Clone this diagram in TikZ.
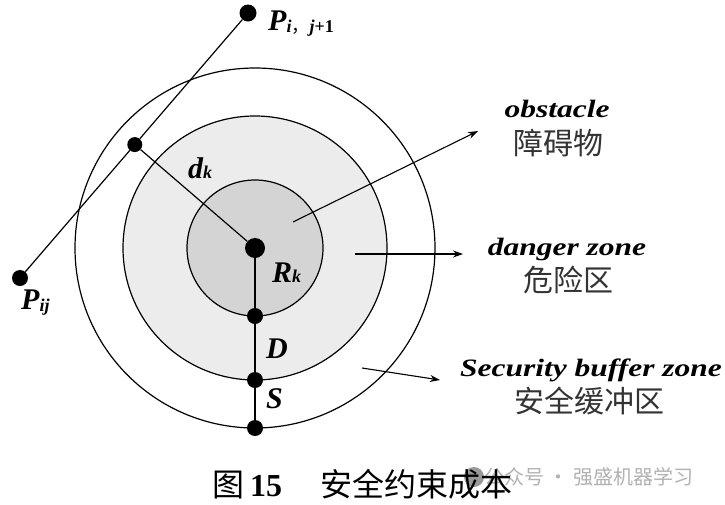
\documentclass[tikz,border=0pt]{standalone}
\usepackage{fontspec}
\setmainfont{Liberation Serif}
\newfontfamily\cjk{Noto Sans CJK SC}
\usetikzlibrary{arrows.meta,calc}
\newcommand{\hstretch}[1]{\scalebox{1.26}[1]{#1}}
\newcommand{\mlab}[2]{{\fontsize{30}{30}\selectfont\bfseries\itshape #1}{\fontsize{18}{18}\selectfont\bfseries\itshape #2}}
\definecolor{innerfill}{RGB}{212,212,212}
\definecolor{midfill}{RGB}{236,236,236}
\begin{document}
\begin{tikzpicture}[x=1pt,y=-1pt,
  ring/.style={draw=black, line width=1.2pt},
  seg/.style={draw=black, line width=1.2pt},
  dot/.style={circle, fill=black, inner sep=0pt, minimum size=16pt},
  lab/.style={inner sep=0pt, anchor=base west},
  ptr/.style={draw=black, line width=1.1pt, -{Stealth[length=10pt,width=7pt]}},
  entext/.style={inner sep=0pt, anchor=base, font=\fontsize{25}{25}\selectfont\bfseries\itshape},
  zhtext/.style={inner sep=0pt, font=\cjk\fontsize{30}{30}\selectfont, text=black!80}]
\useasboundingbox[fill=white] (0,0) rectangle (725,504);
\coordinate (o) at (255,248);
% zones
\filldraw[ring, fill=white] (o) circle[radius=180];
\filldraw[ring, fill=midfill] (o) circle[radius=132];
\filldraw[ring, fill=innerfill] (o) circle[radius=68];
% points
\node[dot, minimum size=20pt] (c) at (o) {};
\node[dot] (pij) at (20,278) {};
\node[dot, minimum size=17pt] (pj1) at (248,13) {};
\coordinate (f) at ($(pij)!(c)!(pj1)$);
\node[dot, minimum size=15pt] (foot) at (f) {};
\node[dot] (b1) at (255,316) {};
\node[dot] (b2) at (255,380) {};
\node[dot] (b3) at (255,428) {};
% segments
\draw[seg] (pij) -- (foot);
\draw[seg] (foot) -- (pj1);
\draw[seg] (foot) -- (c);
\draw[seg] (c) -- (b1);
\draw[seg] (b1) -- (b2);
\draw[seg] (b2) -- (b3);
% labels
\node[lab] (ldk) at (188,178) {\mlab{d}{k}};
\node[lab] (lrk) at (272,282) {\mlab{R}{k}};
\node[lab] (ld) at (266,358) {\mlab{D}{}};
\node[lab] (ls) at (266,408) {\mlab{S}{}};
\node[lab] (lpj1) at (268,30) {\mlab{P}{\raisebox{-2pt}{i{\cjk\mdseries\upshape ，}j{\upshape +1}}}};
\node[lab] (lpij) at (21,309) {\mlab{P}{\raisebox{-2pt}{ij}}};
% pointers
\coordinate (a1s) at (293,222); \coordinate (a1e) at (478,131);
\coordinate (a2s) at (355,254); \coordinate (a2e) at (463,254);
\coordinate (a3s) at (362,368); \coordinate (a3e) at (440,380);
\draw[ptr] (a1s) -- (a1e);
\draw[ptr] (a2s) -- (a2e);
\draw[ptr] (a3s) -- (a3e);
% zone texts
\node[entext] (tobs) at (557,117) {\hstretch{obstacle}};
\node[zhtext] (zobs) at (558,143) {障碍物};
\node[entext] (tdan) at (567,255) {\hstretch{danger zone}};
\node[zhtext] (zdan) at (568,280) {危险区};
\node[entext] (tsec) at (591,376) {\hstretch{Security buffer zone}};
\node[zhtext] (zsec) at (589,401) {安全缓冲区};
% watermark
\node[circle, fill=black!40, inner sep=0pt, minimum size=20pt] (wmi) at (474,477) {};
\node[inner sep=0pt, anchor=west, text=black!30, font=\cjk\fontsize{20}{20}\selectfont] (wm) at (484,477) {公众号 · 强盛机器学习};
% caption
\node[inner sep=0pt, anchor=west] (cap) at (212,484) {\cjk\fontsize{32}{32}\selectfont 图\hspace{6pt}{\rmfamily\bfseries 15}\hspace{38pt}安全约束成本};
\end{tikzpicture}
\end{document}
